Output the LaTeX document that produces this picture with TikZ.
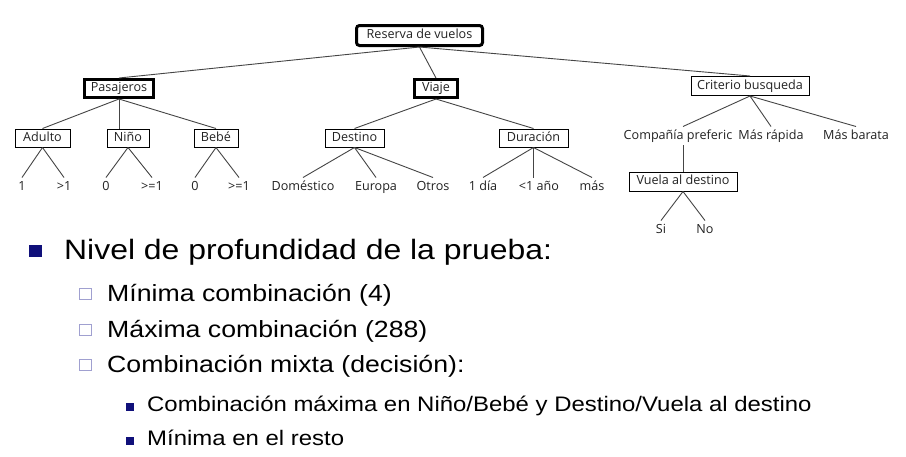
\documentclass[tikz,border=0pt]{standalone}
\usepackage{fontspec}
\setmainfont{Liberation Sans}
\newfontfamily\treefont{Open Sans}
\newfontfamily\slidefont[FakeStretch=1.14]{Liberation Sans}
\definecolor{navy}{HTML}{10107A}
\definecolor{lilac}{HTML}{A0A0D0}
\definecolor{treeline}{HTML}{454545}
\definecolor{treetext}{HTML}{222222}
\begin{document}
\begin{tikzpicture}[x=1pt,y=-1pt,
  treetxt/.style={font=\treefont\fontsize{12.6}{14}\selectfont, text=treetext, text height=9.5, text depth=3},
  thinbox/.style={treetxt, draw=black, line width=1pt, inner sep=0pt, minimum height=18},
  thickbox/.style={treetxt, draw=black, line width=3pt, inner sep=0pt, minimum height=18},
  leaf/.style={treetxt, anchor=base, inner sep=0pt, outer sep=3pt},
  conn/.style={draw=treeline, line width=0.9pt},
  lvlone/.style={anchor=base west, inner sep=0pt, font=\slidefont\fontsize{28}{32}\selectfont},
  lvltwo/.style={anchor=base west, inner sep=0pt, font=\slidefont\fontsize{23.4}{27}\selectfont},
  lvlthree/.style={anchor=base west, inner sep=0pt, font=\slidefont\fontsize{21}{25}\selectfont},
  bigbullet/.style={fill=navy, draw=none},
  hollowbullet/.style={draw=lilac, fill=white, line width=1.2pt},
  smallbullet/.style={fill=navy, draw=none}
]
\useasboundingbox (0,0) rectangle (906,456);
\fill[white] (0,0) rectangle (906,456);

% ---- tree nodes ----
\node[thickbox, rounded corners=3pt, minimum width=126, minimum height=20] (res) at (419.5,35.5) {Reserva de vuelos};
\node[thickbox, minimum width=69] (pas) at (119,88.5) {Pasajeros};
\node[thickbox, minimum width=43] (via) at (436,88.5) {Viaje};
\node[thinbox, minimum width=118, minimum height=19] (cri) at (750,86) {Criterio busqueda};

\node[thinbox, minimum width=55] (adu) at (42.5,138) {Adulto};
\node[thinbox, minimum width=42] (nin) at (128,138) {Niño};
\node[thinbox, minimum width=44] (beb) at (216,138) {Bebé};
\node[thinbox, minimum width=59] (des) at (354.5,138) {Destino};
\node[thinbox, minimum width=69] (dur) at (533.5,138) {Duración};

\node[leaf] (a1) at (22,190) {1};
\node[leaf] (a2) at (64,190) {>1};
\node[leaf] (n1) at (106,190) {0};
\node[leaf] (n2) at (152,190) {>=1};
\node[leaf] (b1) at (195,190) {0};
\node[leaf] (b2) at (239,190) {>=1};
\node[leaf] (d1) at (303,190) {Doméstico};
\node[leaf] (d2) at (376,190) {Europa};
\node[leaf] (d3) at (433,190) {Otros};
\node[leaf] (u1) at (483,190) {1 día};
\node[leaf] (u2) at (539,190) {<1 año};
\node[leaf] (u3) at (592,190) {más};

\node[leaf] (c1) at (678,139) {Compañía preferic};
\node[leaf] (c2) at (771,139) {Más rápida};
\node[leaf] (c3) at (856,139) {Más barata};
\node[thinbox, minimum width=108, minimum height=19] (vue) at (683,181.5) {Vuela al destino};
\node[leaf] (si) at (661,233) {Si};
\node[leaf] (no) at (705,233) {No};

% ---- connectors ----
\draw[conn] (res.south) -- (pas.north);
\draw[conn] (res.south) -- (via.north);
\draw[conn] (res.south) -- (cri.north);
\draw[conn] (pas.south) -- (adu.north);
\draw[conn] (pas.south) -- (pas.south |- nin.north);
\draw[conn] (pas.south) -- (beb.north);
\draw[conn] (via.south) -- (des.north);
\draw[conn] (via.south) -- (dur.north);
\draw[conn] (adu.south) -- (a1.north);
\draw[conn] (adu.south) -- (a2.north);
\draw[conn] (nin.south) -- (n1.north);
\draw[conn] (nin.south) -- (n2.north);
\draw[conn] (beb.south) -- (b1.north);
\draw[conn] (beb.south) -- (b2.north);
\draw[conn] (des.south) -- (d1.north);
\draw[conn] (des.south) -- (d2.north);
\draw[conn] (des.south) -- (d3.north);
\draw[conn] (dur.south) -- (u1.north);
\draw[conn] (dur.south) -- (dur.south |- u2.north);
\draw[conn] (dur.south) -- (u3.north);
\draw[conn] (cri.south) -- (vue.north |- c1.north);
\draw[conn] (cri.south) -- (c2.north);
\draw[conn] (cri.south) -- (c3.north);
\draw[conn] (vue.north) -- (vue.north |- c1.south);
\draw[conn] (vue.south) -- (si.north);
\draw[conn] (vue.south) -- (no.north);

% ---- bullet text ----
\fill[bigbullet] (29,245) rectangle (42,257);
\node[lvlone] (t1) at (64,259) {Nivel de profundidad de la prueba:};

\draw[hollowbullet] (79.5,288.5) rectangle (91.5,299.5);
\node[lvltwo] (t2) at (107,301) {Mínima combinación (4)};
\draw[hollowbullet] (79.5,324.5) rectangle (91.5,335.5);
\node[lvltwo] (t3) at (107,337) {Máxima combinación (288)};
\draw[hollowbullet] (79.5,359.5) rectangle (91.5,370.5);
\node[lvltwo] (t4) at (107,372) {Combinación mixta (decisión):};

\fill[smallbullet] (126,403) rectangle (133.5,410.5);
\node[lvlthree] (t5) at (147,411) {Combinación máxima en Niño/Bebé y Destino/Vuela al destino};
\fill[smallbullet] (126,437) rectangle (133.5,444.5);
\node[lvlthree] (t6) at (147,445) {Mínima en el resto};
\end{tikzpicture}
\end{document}
